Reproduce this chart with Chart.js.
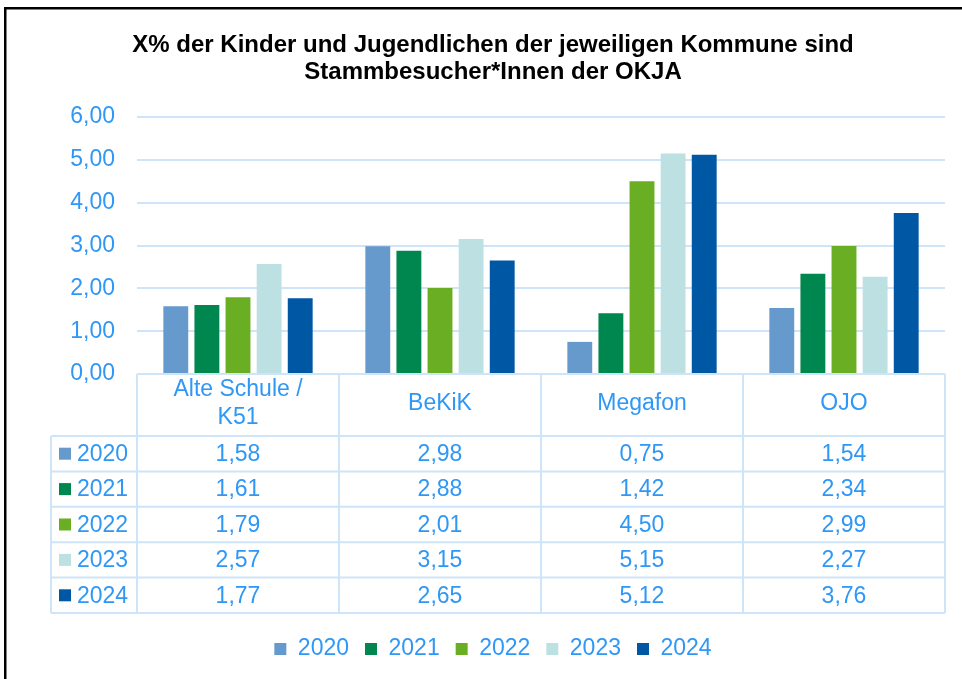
<!DOCTYPE html>
<html lang="de">
<head>
<meta charset="UTF-8" />
<title>OKJA Stammbesucher</title>
<script src="https://cdn.jsdelivr.net/npm/chart.js@4/dist/chart.umd.min.js"></script>
<style>
  body { margin: 0; background: #fff; }
  #wrap { width: 962px; height: 679px; position: relative; }
</style>
</head>
<body>
<div id="wrap"><canvas id="myChart"></canvas></div>
<script>
// data
const categories = [["Alte Schule /", "K51"], "BeKiK", "Megafon", "OJO"];
const years = ["2020", "2021", "2022", "2023", "2024"];
const v2020 = [1.58, 2.98, 0.75, 1.54];
const v2021 = [1.61, 2.88, 1.42, 2.34];
const v2022 = [1.79, 2.01, 4.50, 2.99];
const v2023 = [2.57, 3.15, 5.15, 2.27];
const v2024 = [1.77, 2.65, 5.12, 3.76];
const yTicks = [0, 1, 2, 3, 4, 5, 6];

const seriesValues = [v2020, v2021, v2022, v2023, v2024];
const colors = ["#6699cc", "#00874f", "#6aae23", "#bde0e3", "#0057a4"];
const textColor = "#2f97f5";
const lineColor = "#cde4f9";
const fontName = "'Liberation Sans', Arial, sans-serif";

const fmt = (v) => v.toFixed(2).replace(".", ",");

// black frame (top + left only) and white background
const framePlugin = {
    id: "frame",
    beforeDraw(chart) {
        const ctx = chart.ctx;
        ctx.save();
        ctx.fillStyle = "#fff";
        ctx.fillRect(0, 0, chart.width, chart.height);
        ctx.fillStyle = "#000";
        ctx.fillRect(4, 7, chart.width - 4, 2.5);
        ctx.fillRect(4, 7, 2.5, chart.height - 7);
        ctx.restore();
    },
};

// data table under the plot, aligned to the x scale
const tablePlugin = {
    id: "dataTable",
    afterDraw(chart) {
        const ctx = chart.ctx;
        const x = chart.scales.x;
        const area = chart.chartArea;
        const colW = area.width / categories.length;
        const y0 = area.bottom;
        const headH = 62;
        const rowH = 35.4;
        const leftX = 51;
        const yEnd = y0 + headH + rowH * years.length;

        ctx.save();
        ctx.strokeStyle = lineColor;
        ctx.lineWidth = 2;
        ctx.beginPath();
        // horizontal lines
        ctx.moveTo(area.left, y0);
        ctx.lineTo(area.right, y0);
        for (let r = 0; r <= years.length; r++) {
            const yy = y0 + headH + r * rowH;
            ctx.moveTo(leftX, yy);
            ctx.lineTo(area.right, yy);
        }
        // vertical lines
        ctx.moveTo(leftX, y0 + headH);
        ctx.lineTo(leftX, yEnd);
        for (let i = 0; i <= categories.length; i++) {
            const xx = area.left + i * colW;
            ctx.moveTo(xx, y0);
            ctx.lineTo(xx, yEnd);
        }
        ctx.stroke();

        ctx.font = "23px " + fontName;
        ctx.fillStyle = textColor;
        ctx.textAlign = "center";
        ctx.textBaseline = "middle";

        // header
        categories.forEach((cat, i) => {
            const cx = x.getPixelForValue(i);
            const lines = Array.isArray(cat) ? cat : [cat];
            const cy = y0 + 30;
            lines.forEach((ln, k) => {
                ctx.fillText(ln, cx, cy + (k - (lines.length - 1) / 2) * 28);
            });
        });

        // rows
        chart.data.datasets.forEach((ds, r) => {
            const cy = y0 + headH + r * rowH + rowH / 2;
            ctx.fillStyle = ds.backgroundColor;
            ctx.fillRect(59, cy - 6, 12, 12);
            ctx.fillStyle = textColor;
            ctx.textAlign = "left";
            ctx.fillText(ds.label, 77, cy + 1);
            ctx.textAlign = "center";
            ds.data.forEach((v, i) => {
                ctx.fillText(fmt(v), x.getPixelForValue(i), cy + 1);
            });
        });
        ctx.restore();
    },
};

const chart = new Chart("myChart", {
    type: "bar",
    data: {
        labels: categories,
        datasets: years.map((yr, i) => ({
            label: yr,
            data: seriesValues[i],
            backgroundColor: colors[i],
            borderWidth: 0,
            barPercentage: 0.8,
            categoryPercentage: 0.77,
        })),
    },
    options: {
        responsive: true,
        maintainAspectRatio: false,
        animation: false,
        layout: { padding: { left: 41, right: 17, top: 0, bottom: 8.5 } },
        plugins: {
            title: {
                display: true,
                text: [
                    "X% der Kinder und Jugendlichen der jeweiligen Kommune sind",
                    "Stammbesucher*Innen der OKJA",
                ],
                color: "#000",
                font: { family: fontName, size: 24, weight: "bold", lineHeight: 1.125 },
                padding: { top: 32, bottom: 31 },
            },
            legend: {
                position: "bottom",
                labels: {
                    color: textColor,
                    font: { family: fontName, size: 23 },
                    boxWidth: 12,
                    boxHeight: 12,
                    padding: 16,
                },
            },
            tooltip: { enabled: false },
        },
        scales: {
            x: {
                ticks: { display: false },
                grid: { display: false },
                border: { display: false },
                afterFit(scale) { scale.height = 247.5; },
            },
            y: {
                min: yTicks[0],
                max: yTicks[yTicks.length - 1],
                afterBuildTicks(scale) { scale.ticks = yTicks.map((v) => ({ value: v })); },
                ticks: {
                    color: textColor,
                    font: { family: fontName, size: 23 },
                    padding: 22,
                    callback: (v) => fmt(v),
                },
                grid: { color: lineColor, lineWidth: 2, drawTicks: false },
                border: { display: false },
                afterFit(scale) { scale.width = 96; },
            },
        },
    },
    plugins: [framePlugin, tablePlugin],
});
</script>
</body>
</html>
